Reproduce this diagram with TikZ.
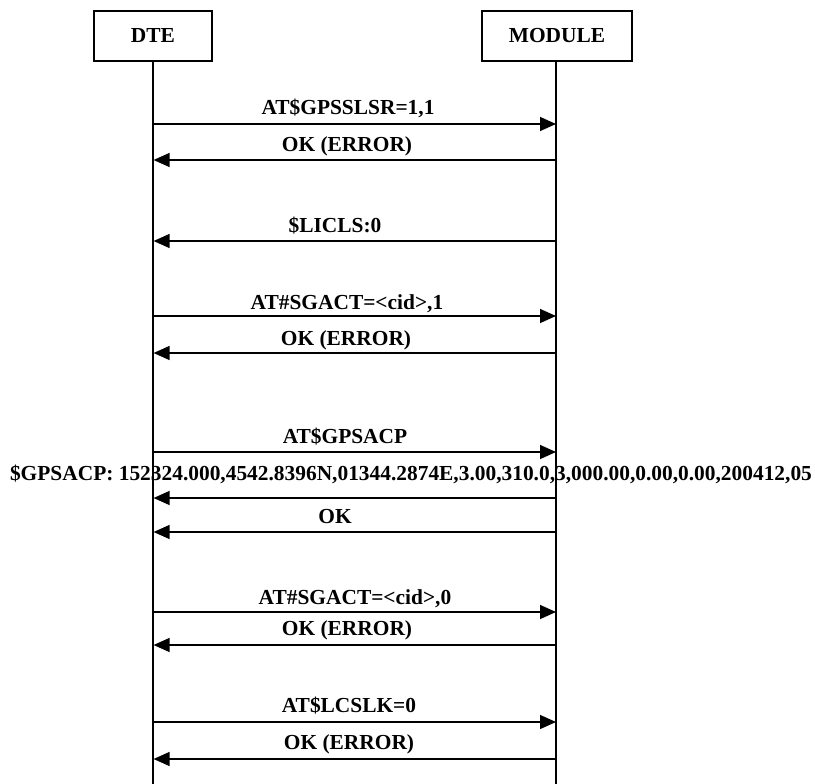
\documentclass[tikz,border=0pt]{standalone}
\usepackage{fontspec}
\setmainfont{Liberation Serif}
\usetikzlibrary{arrows.meta}
\tikzset{
  actor/.style={draw, line width=1.6pt, minimum width=#1, minimum height=50pt, inner sep=0pt, font=\fontsize{21.4}{25}\selectfont\bfseries},
  lifeline/.style={line width=1.3pt},
  msg/.style={line width=1.4pt, -{Triangle[length=16pt,width=14pt]}},
  lbl/.style={anchor=base, inner sep=0pt, font=\fontsize{21.4}{25}\selectfont\bfseries}
}
\begin{document}
\begin{tikzpicture}[x=1pt,y=-1pt]
\useasboundingbox (0,0) rectangle (815,784);
\node[actor=118pt] (dte) at (153,36) {DTE};
\node[actor=150pt] (mod) at (557,36) {MODULE};
\coordinate (dteEnd) at (153,784);
\coordinate (modEnd) at (556,784);
\draw[lifeline] (dte.south) -- (dteEnd);
\draw[lifeline] (mod.south -| modEnd) -- (modEnd);
% message coordinates
\foreach \n/\y in {1/124,2/160,3/241,4/316,5/353,6/452,7/498,8/532,9/612,10/645,11/722,12/759}{
  \coordinate (d\n) at (153.6,\y);
  \coordinate (m\n) at (556,\y);
}
\draw[msg] (d1) -- (m1);
\draw[msg] (m2) -- (d2);
\draw[msg] (m3) -- (d3);
\draw[msg] (d4) -- (m4);
\draw[msg] (m5) -- (d5);
\draw[msg] (d6) -- (m6);
\draw[msg] (m7) -- (d7);
\draw[msg] (m8) -- (d8);
\draw[msg] (d9) -- (m9);
\draw[msg] (m10) -- (d10);
\draw[msg] (d11) -- (m11);
\draw[msg] (m12) -- (d12);
% labels
\node[lbl] (t1) at (348,115) {AT\$GPSSLSR=1,1};
\node[lbl] (t2) at (347,152) {OK (ERROR)};
\node[lbl] (t3) at (335,232) {\$LICLS:0};
\node[lbl] (t4) at (347,309) {AT\#SGACT=<cid>,1};
\node[lbl] (t5) at (346,345) {OK (ERROR)};
\node[lbl] (t6) at (345,443) {AT\$GPSACP};
\node[lbl] (t7) at (411,480) {\$GPSACP: 152324.000,4542.8396N,01344.2874E,3.00,310.0,3,000.00,0.00,0.00,200412,05};
\node[lbl] (t8) at (335,523) {OK};
\node[lbl] (t9) at (355,604) {AT\#SGACT=<cid>,0};
\node[lbl] (t10) at (347,635) {OK (ERROR)};
\node[lbl] (t11) at (349,712) {AT\$LCSLK=0};
\node[lbl] (t12) at (349,749) {OK (ERROR)};
\end{tikzpicture}
\end{document}
